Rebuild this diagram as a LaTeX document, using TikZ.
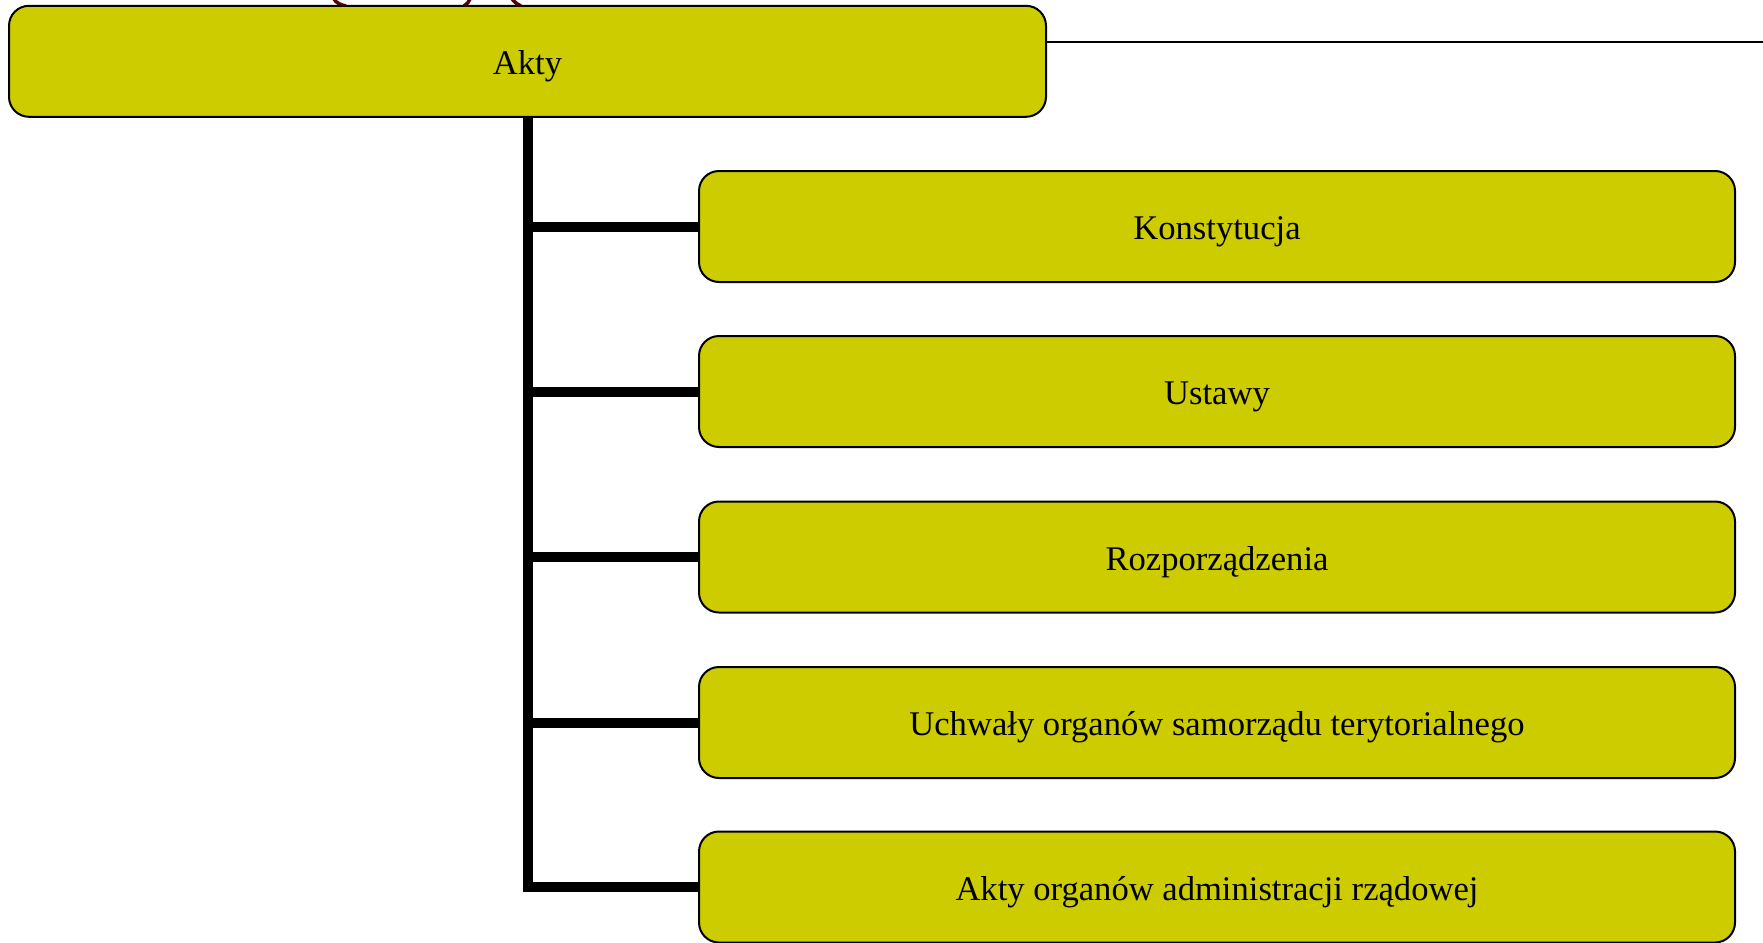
\documentclass[tikz,border=0pt]{standalone}
\usepackage{fontspec}
\setmainfont{Liberation Serif}
\definecolor{boxfill}{RGB}{204,204,0}
\definecolor{darkred}{RGB}{90,0,0}
\begin{document}
\begin{tikzpicture}[x=1pt,y=-1pt,
  box/.style={draw=black, line width=2pt, fill=boxfill, rounded corners=20pt,
    minimum height=111pt, inner sep=0pt, text height=30pt, text depth=4pt,
    font=\fontsize{34.6}{40}\selectfont},
  topbox/.style={box, minimum width=1037pt},
  childbox/.style={box, minimum width=1036pt},
  trunk/.style={line width=10pt, line join=miter, black},
  thinline/.style={line width=2pt, black}]
\useasboundingbox (0,0) rectangle (1763,942);
% partial dark red shapes peeking above the top box
\draw[darkred, line width=3.5pt] (334,-1) .. controls (336,3) and (341,5) .. (346,6);
\draw[darkred, line width=3.5pt] (470,-1) .. controls (469,2) and (467,4) .. (464,6);
\draw[darkred, line width=3.5pt] (512,-1) .. controls (514,2) and (517,4) .. (521,6);
\node[topbox] (top) at (527.5,61.3) {Akty};
\node[childbox] (c1) at (1217,226.5) {Konstytucja};
\node[childbox] (c2) at (1217,391.5) {Ustawy};
\node[childbox] (c3) at (1217,557) {Rozporządzenia};
\node[childbox] (c4) at (1217,722.5) {Uchwały organów samorządu terytorialnego};
\node[childbox] (c5) at (1217,887) {Akty organów administracji rządowej};
\coordinate (lineend) at (1763,41.6);
\draw[thinline] (top.east |- lineend) -- (lineend);
\draw[trunk] (top.south) |- (c5.west);
\foreach \c in {c1,c2,c3,c4}
  \draw[trunk] (top.south |- \c.west) -- (\c.west);
\end{tikzpicture}
\end{document}
